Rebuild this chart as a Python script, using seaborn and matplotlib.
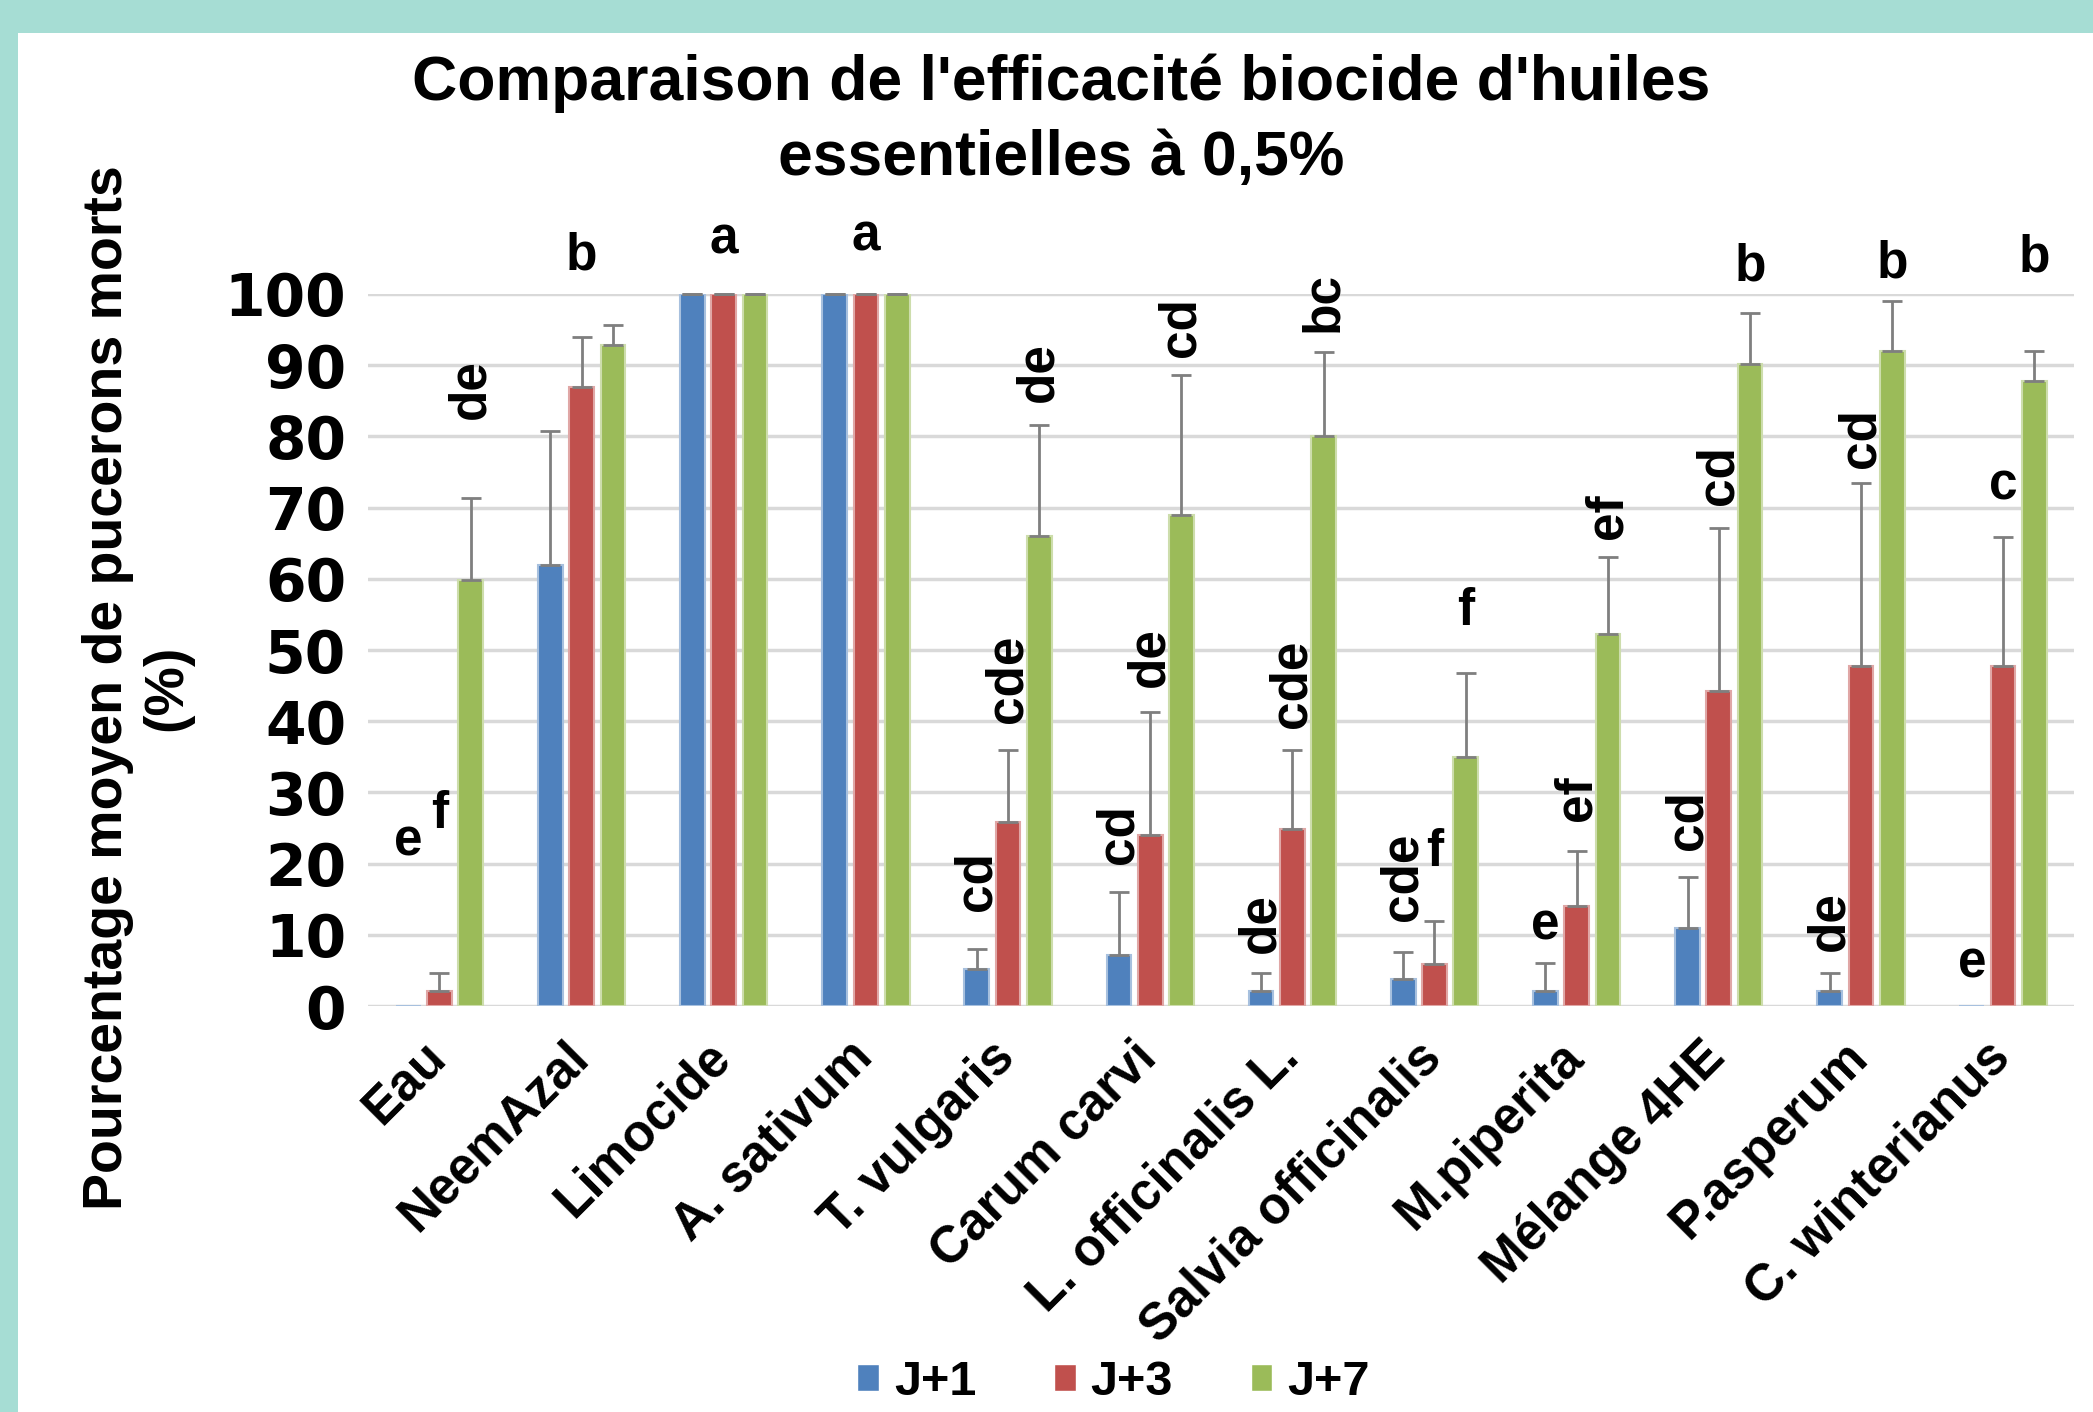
import numpy as np
import pandas as pd
import matplotlib.pyplot as plt
import matplotlib.transforms as mtransforms
import seaborn as sns
from matplotlib.patches import Rectangle

sns.set_theme(style="white")
plt.rcParams["font.family"] = ["Liberation Sans", "DejaVu Sans"]
plt.rcParams["font.weight"] = "bold"
plt.rcParams["text.color"] = "black"
plt.rcParams["xtick.color"] = "black"
plt.rcParams["ytick.color"] = "black"

OUTPUT_FILE = "out.png"

categories = ["Eau", "NeemAzal", "Limocide", "A. sativum", "T. vulgaris", "Carum carvi",
              "L. officinalis L.", "Salvia officinalis", "M.piperita", "Mélange 4HE",
              "P.asperum", "C. winterianus"]
days = ["J+1", "J+3", "J+7"]

# moyennes (%)
j1_mean = [0, 62, 100, 100, 5.2, 7.1, 2.1, 3.8, 2.1, 10.9, 2.1, 0]
j3_mean = [2.1, 86.9, 100, 100, 25.9, 24, 24.8, 5.9, 14.1, 44.2, 47.8, 47.8]
j7_mean = [59.8, 92.8, 100, 100, 66, 68.9, 80, 35, 52.2, 90.1, 92, 87.8]

# ecarts-types (barre superieure seulement)
j1_sd = [0, 18.7, 0, 0, 2.8, 8.9, 2.5, 3.8, 4, 7.2, 2.5, 0]
j3_sd = [2.5, 7, 0, 0, 10.1, 17.3, 11.2, 6.1, 7.7, 22.9, 25.7, 18.1]
j7_sd = [11.5, 2.8, 0, 0, 15.6, 19.7, 11.9, 11.8, 10.8, 7.2, 7, 4.2]

# lettres de significativite
j1_letters = ["e", "", "", "", "cd", "cd", "de", "cde", "e", "cd", "de", "e"]
j3_letters = ["f", "b", "a", "a", "cde", "de", "cde", "f", "ef", "cd", "cd", "c"]
j7_letters = ["de", "", "", "", "de", "cd", "bc", "f", "ef", "b", "b", "b"]

j1_letter_y = [23, None, None, None, 17.5, 24.2, 11.7, 18.1, 11.3, 26.1, 12, 5.9]
j3_letter_y = [26.9, 105.3, 107.6, 108, 46, 49, 45.2, 21.6, 29.2, 74.5, 79.8, 73]
j7_letter_y = [86.7, None, None, None, 89, 95.4, 98.9, 55.4, 68.8, 103.8, 104.2, 105]

colors = ["#4F81BD", "#C0504D", "#9BBB59"]
edge_colors = ["#A7C0DE", "#E0A7A6", "#CDDDAC"]

df = pd.DataFrame({
    "Huile": categories * 3,
    "Jour": [d for d in days for _ in categories],
    "Mortalite": j1_mean + j3_mean + j7_mean,
})

fig = plt.figure(figsize=(20.93, 14.12), dpi=100)
fig.patch.set_facecolor("#A6DDD4")
fig.patches.append(Rectangle((18 / 2093, 0), 1, 1 - 33 / 1412, transform=fig.transFigure,
                             facecolor="white", edgecolor="none", zorder=-5))

ax = fig.add_axes([0.176, 0.2875, 0.815, 0.5043])
ax.set_facecolor("white")

sns.barplot(data=df, x="Huile", y="Mortalite", hue="Jour", order=categories,
            hue_order=days, palette=colors, saturation=1, width=0.66, gap=0.21,
            errorbar=None, ax=ax, zorder=2)

sds = [j1_sd, j3_sd, j7_sd]
letters = [j1_letters, j3_letters, j7_letters]
letter_ys = [j1_letter_y, j3_letter_y, j7_letter_y]

bar_containers = list(ax.containers)
for i, cont in enumerate(bar_containers):
    xs, ys = [], []
    for p in cont.patches:
        p.set_edgecolor(edge_colors[i])
        p.set_linewidth(1.5)
        xs.append(p.get_x() + p.get_width() / 2)
        ys.append(p.get_height())
    xs = np.array(xs)
    ys = np.array(ys)
    sd = np.array(sds[i])
    keep = ys > 0
    ax.errorbar(xs[keep], ys[keep], yerr=[np.zeros(keep.sum()), sd[keep]], fmt="none",
                ecolor="#7F7F7F", elinewidth=2, capsize=7, capthick=2,
                zorder=3, clip_on=False)
    for x, lab, ly in zip(xs, letters[i], letter_ys[i]):
        if not lab:
            continue
        ax.text(x, ly, lab, ha="center", va="center", fontsize=37, fontweight="bold",
                rotation=90 if len(lab) > 1 else 0, color="black")

ax.set_xlim(-0.5, len(categories) - 0.5)
ax.set_ylim(0, 100)
ax.set_yticks(range(0, 101, 10))
ax.yaxis.grid(True, color="#D9D9D9", linewidth=2.5, zorder=0)
ax.set_axisbelow(True)
for s in ax.spines.values():
    s.set_visible(False)

ax.tick_params(axis="y", length=0, pad=16, labelsize=42)
ax.tick_params(axis="x", length=0, pad=14)
ax.set_xticks(range(len(categories)))
ax.set_xticklabels(categories, rotation=45, ha="right", rotation_mode="anchor",
                   fontsize=37, fontweight="bold")
shift = mtransforms.ScaledTranslation(-0.18, -0.07, fig.dpi_scale_trans)
for t in ax.get_xticklabels():
    t.set_transform(t.get_transform() + shift)
for t in ax.get_yticklabels():
    t.set_fontweight("bold")
    t.set_family(["DejaVu Sans"])
ax.set_xlabel("")
ax.set_ylabel("")

fig.text(0.507, 0.941, "Comparaison de l'efficacité biocide d'huiles", ha="center",
         va="center", fontsize=45, fontweight="bold")
fig.text(0.507, 0.888, "essentielles à 0,5%", ha="center", va="center",
         fontsize=45, fontweight="bold")
fig.text(0.0657, 0.513, "Pourcentage moyen de pucerons morts\n(%)", ha="center",
         va="center", rotation=90, multialignment="center", fontsize=40,
         fontweight="bold", linespacing=1.2)

sns.move_legend(ax, "center", bbox_to_anchor=(0.532, 0.021), bbox_transform=fig.transFigure,
                ncol=3, frameon=False, title=None, fontsize=35, handlelength=0.45,
                handleheight=0.45, handletextpad=0.3, columnspacing=1.6)

fig.savefig(OUTPUT_FILE, dpi=100, facecolor=fig.get_facecolor())
